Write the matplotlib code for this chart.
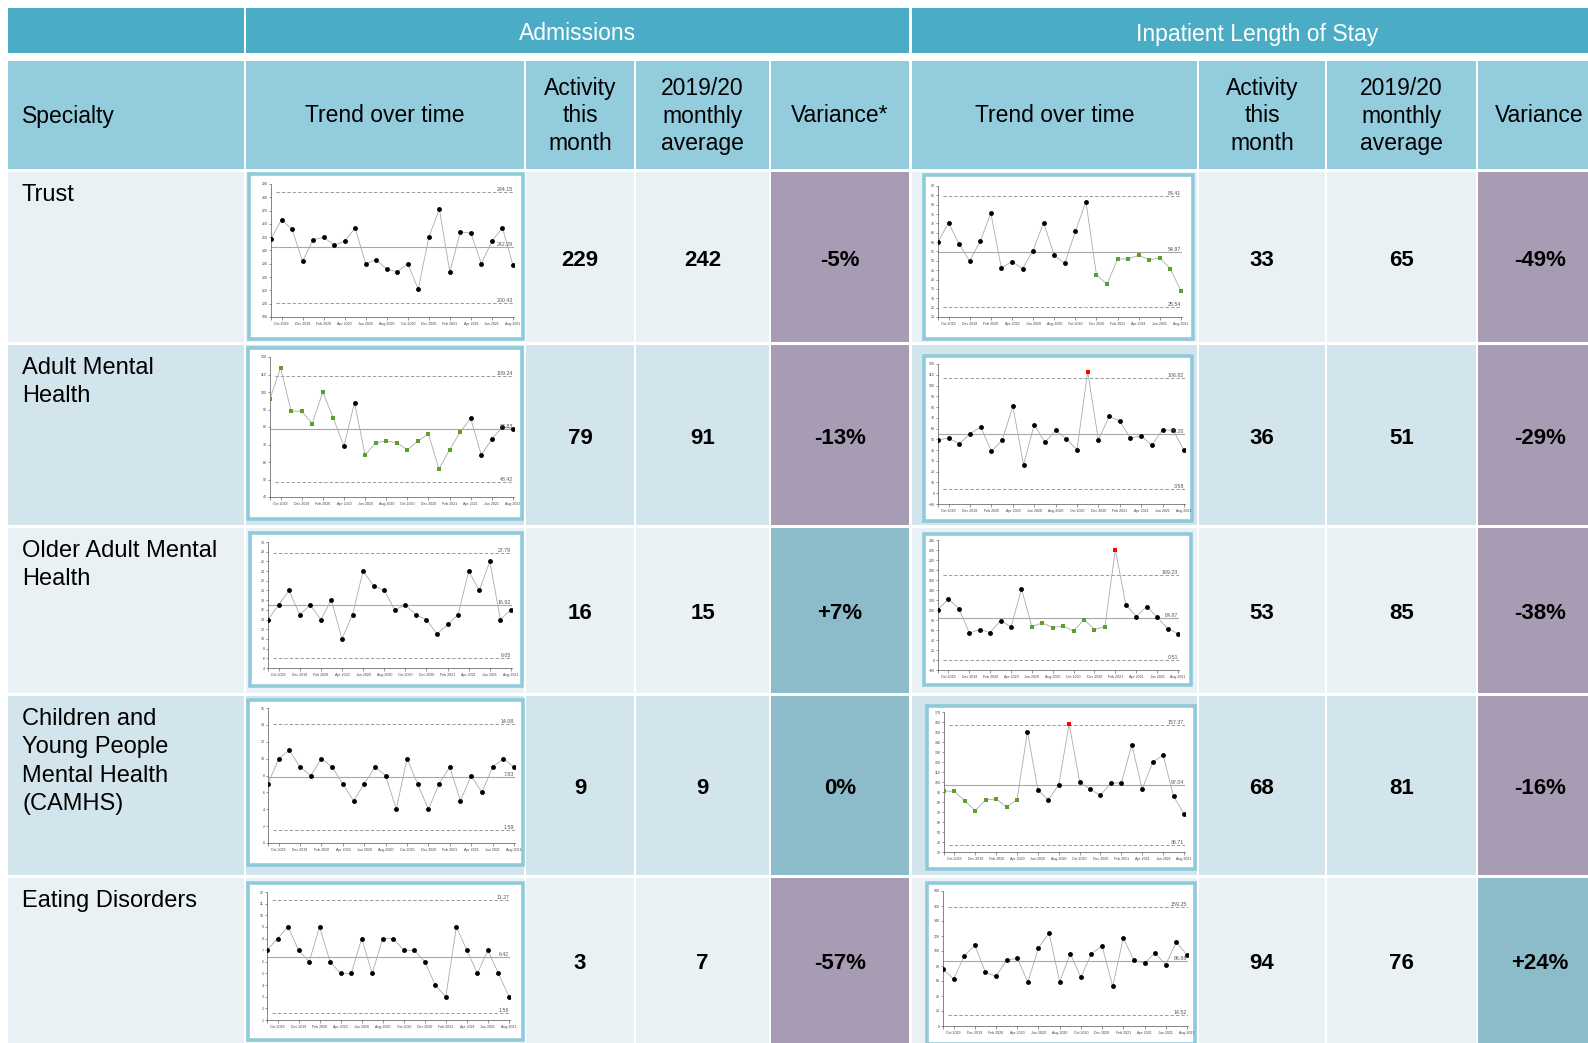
import matplotlib
matplotlib.use('Agg')
import matplotlib.pyplot as plt
from matplotlib.patches import Rectangle
import numpy as np

plt.rcParams['font.family'] = ['Liberation Sans', 'DejaVu Sans']

W, H = 1588, 1043

# ---------------- data ----------------
specialties = ['Trust', 'Adult Mental\nHealth', 'Older Adult Mental\nHealth',
               'Children and\nYoung People\nMental Health\n(CAMHS)', 'Eating Disorders']

months = ['Sep 2019', 'Oct 2019', 'Nov 2019', 'Dec 2019', 'Jan 2020', 'Feb 2020',
          'Mar 2020', 'Apr 2020', 'May 2020', 'Jun 2020', 'Jul 2020', 'Aug 2020',
          'Sep 2020', 'Oct 2020', 'Nov 2020', 'Dec 2020', 'Jan 2021', 'Feb 2021',
          'Mar 2021', 'Apr 2021', 'May 2021', 'Jun 2021', 'Jul 2021', 'Aug 2021']

adm_activity = [229, 79, 16, 9, 3]
adm_average = [242, 91, 15, 9, 7]
adm_variance = [-5, -13, 7, 0, -57]
los_activity = [33, 36, 53, 68, 94]
los_average = [65, 51, 85, 81, 76]
los_variance = [-49, -29, -38, -16, 24]

adm_trust = [249, 263, 256, 232, 248, 250, 244, 247, 257, 230, 233, 226,
             224, 230, 211, 250, 271, 224, 254, 253, 230, 247, 257, 229]
adm_trust_flags = 'nnnnnnnnnnnnnnnnnnnnnnnn'
adm_trust_limits = [242.29, 284.15, 200.43]

los_trust = [60, 70.4, 59, 50, 60.5, 75.5, 46.2, 49.6, 45.9, 55.5, 70.4, 53,
             48.6, 65.7, 81.6, 42.7, 37.5, 51, 51, 53, 50.5, 51.6, 45.7, 34]
los_trust_flags = 'nnnnnnnnnnnnnnnggggggggg'
los_trust_limits = [54.97, 84.41, 25.54]

adm_adult = [96, 114, 89, 89, 82, 100, 85, 69, 94, 64, 71, 72,
             71, 67, 72, 76, 56, 67, 77, 85, 64, 73, 80, 79]
adm_adult_flags = 'gggggggnnggggggggggnnnnn'
adm_adult_limits = [78.83, 109.24, 48.42]

los_adult = [49.7, 51, 46, 55.3, 61.5, 39, 49, 80.7, 26.5, 63.7, 47.2, 58.4,
             50.4, 40.4, 112.9, 49.4, 71.4, 67, 51, 53.4, 44.4, 59, 58.4, 40]
los_adult_flags = 'nnnnnnnnnnnnnnrnnnnnnnnn'
los_adult_limits = [55.20, 106.82, 3.58]

adm_older = [14, 17, 20, 15, 17, 14, 18, 10, 15, 24, 21, 20,
             16, 17, 15, 14, 11, 13, 15, 24, 20, 26, 14, 16]
adm_older_flags = 'nnnnnnnnnnnnnnnnnnnnnnnn'
adm_older_limits = [16.92, 27.79, 6.05]

los_older = [101, 122, 103, 54, 61, 55, 79, 66, 142, 67, 74, 65,
             68, 58, 81, 61, 67, 221, 111, 87, 107, 86, 63, 53]
los_older_flags = 'nnnnnnnnnggggggggrnnnnnn'
los_older_limits = [84.87, 169.23, 0.51]

adm_camhs = [7, 10, 11, 9, 8, 10, 9, 7, 5, 7, 9, 8,
             4, 10, 7, 4, 7, 9, 5, 8, 6, 9, 10, 9]
adm_camhs_flags = 'nnnnnnnnnnnnnnnnnnnnnnnn'
adm_camhs_limits = [7.83, 14.08, 1.59]

los_camhs = [91, 90.7, 81, 71.3, 82.3, 83, 75, 82.3, 150.3, 92, 82, 97.3,
             158.3, 100, 92.7, 86.7, 99, 99, 137.3, 93, 119.7, 127, 85.7, 68.3]
los_camhs_flags = 'ggggggggnnnnrnnnnnnnnnnn'
los_camhs_limits = [97.04, 157.37, 36.71]

adm_ed = [7, 8, 9, 7, 6, 9, 6, 5, 5, 8, 5, 8,
          8, 7, 7, 6, 4, 3, 9, 7, 5, 7, 5, 3]
adm_ed_flags = 'nnnnnnnnnnnnnnnnnnnnnnnn'
adm_ed_limits = [6.42, 11.27, 1.56]

los_ed = [76, 62.7, 93.3, 107.6, 71.6, 66.2, 88, 90.2, 58.7, 104, 124, 59,
          96.4, 64.9, 96.4, 106.7, 52.9, 117.3, 87.6, 84, 97.3, 81.8, 112, 94.7]
los_ed_flags = 'nnnnnnnnnnnnnnnnnnnnnnnn'
los_ed_limits = [86.88, 159.25, 14.52]

# y-axis ranges (min, max, step)
adm_yaxes = [(190, 290, 10), (40, 120, 10), (4, 30, 2), (0, 16, 2), (1, 12, 1)]
los_yaxes = [(20, 90, 5), (-10, 120, 10), (-20, 240, 20), (30, 170, 10), (0, 180, 20)]

# ---------------- styling ----------------
C_HEAD1 = '#4BACC6'
C_HEAD2 = '#93CDDD'
C_ROW_L = '#E9F1F4'
C_ROW_D = '#D3E5EC'
C_PURPLE = '#A89BB4'
C_TEAL = '#8CBCC9'
C_FRAME = '#8FCADA'
C_GREEN = '#5E9E2A'

fig = plt.figure(figsize=(W / 100, H / 100), dpi=100)
bg = fig.add_axes([0, 0, 1, 1])
bg.set_xlim(0, W)
bg.set_ylim(H, 0)
bg.axis('off')

cols = [(8, 244), (246, 524), (526, 634), (636, 769), (771, 909),
        (912, 1197), (1199, 1325), (1327, 1476), (1478, 1602)]
rows = [(172, 342), (345, 525), (528, 693), (696, 875), (878, 1050)]
row_colors = [C_ROW_L, C_ROW_D, C_ROW_L, C_ROW_D, C_ROW_L]


def cell(x0, x1, y0, y1, color):
    bg.add_patch(Rectangle((x0, y0), x1 - x0, y1 - y0, facecolor=color,
                           edgecolor='none', zorder=0))


# header row 1
cell(8, 244, 8, 53, C_HEAD1)
cell(246, 909, 8, 53, C_HEAD1)
cell(912, 1602, 8, 53, C_HEAD1)
bg.text((246 + 909) / 2, 34, 'Admissions', color='white', fontsize=16.5,
        ha='center', va='center')
bg.text((912 + 1602) / 2, 34, 'Inpatient Length of Stay', color='white',
        fontsize=16.5, ha='center', va='center')

# header row 2
hy0, hy1 = 61, 169
heads = ['Specialty', 'Trend over time', 'Activity\nthis\nmonth',
         '2019/20\nmonthly\naverage', 'Variance*', 'Trend over time',
         'Activity\nthis\nmonth', '2019/20\nmonthly\naverage', 'Variance']
for i, (x0, x1) in enumerate(cols):
    cell(x0, x1, hy0, hy1, C_HEAD2)
    yc = (hy0 + hy1) / 2 + 1
    if i == 0:
        bg.text(22, yc, heads[i], fontsize=16.5, ha='left', va='center')
    elif i == 8:
        bg.text(1495, yc, heads[i], fontsize=16.5, ha='left', va='center')
    else:
        bg.text((x0 + x1) / 2, yc, heads[i], fontsize=16.5, ha='center',
                va='center', linespacing=1.27, multialignment='center')


def fmt_var(v):
    if v > 0:
        return '+%d%%' % v
    return '%d%%' % v


for r, (y0, y1) in enumerate(rows):
    rc = row_colors[r]
    yc = (y0 + y1) / 2 if r < 4 else (y0 + 1043) / 2
    for i, (x0, x1) in enumerate(cols):
        if i in (4, 8):
            v = adm_variance[r] if i == 4 else los_variance[r]
            cell(x0, x1, y0, y1, C_PURPLE if v < 0 else C_TEAL)
        else:
            cell(x0, x1, y0, y1, rc)
    bg.text(22, y0 + 12, specialties[r], fontsize=17, ha='left', va='top',
            linespacing=1.37)
    vals = [None, None, str(adm_activity[r]), str(adm_average[r]),
            fmt_var(adm_variance[r]), None, str(los_activity[r]),
            str(los_average[r]), fmt_var(los_variance[r])]
    for i, (x0, x1) in enumerate(cols):
        if vals[i] is None:
            continue
        xc = (x0 + x1) / 2
        if i == 8:
            xc = 1540
        bg.text(xc, yc + 3, vals[i], fontsize=16, fontweight='bold',
                ha='center', va='center')

# ---------------- mini SPC charts ----------------
adm_series = [(adm_trust, adm_trust_flags, adm_trust_limits),
              (adm_adult, adm_adult_flags, adm_adult_limits),
              (adm_older, adm_older_flags, adm_older_limits),
              (adm_camhs, adm_camhs_flags, adm_camhs_limits),
              (adm_ed, adm_ed_flags, adm_ed_limits)]
los_series = [(los_trust, los_trust_flags, los_trust_limits),
              (los_adult, los_adult_flags, los_adult_limits),
              (los_older, los_older_flags, los_older_limits),
              (los_camhs, los_camhs_flags, los_camhs_limits),
              (los_ed, los_ed_flags, los_ed_limits)]

adm_frames = [(247, 172, 525, 341), (246, 346, 524, 521), (248, 531, 524, 688),
              (246, 698, 525, 867), (246, 881, 525, 1042)]
adm_axes = [(271, 184, 514, 317), (270, 357, 514, 497), (268, 542, 512, 668),
            (268, 708, 515, 843), (267, 892, 510, 1020)]
los_frames = [(922, 173, 1195, 341), (922, 354, 1194, 523), (922, 532, 1193, 687),
              (925, 704, 1197, 871), (925, 881, 1197, 1046)]
los_axes = [(938, 186, 1182, 317), (938, 364, 1185, 504), (938, 540, 1179, 670),
            (944, 712, 1185, 852), (943, 891, 1188, 1026)]

mcolor = {'n': 'black', 'g': C_GREEN, 'r': '#FF0000'}
mshape = {'n': 'o', 'g': 's', 'r': 's'}


def mini(frame, axr, vals, flags, limits, yax):
    fx0, fy0, fx1, fy1 = frame
    bw = 3.6
    fr = Rectangle((fx0 + bw / 2, fy0 + bw / 2), fx1 - fx0 - bw, fy1 - fy0 - bw,
                   facecolor='white', edgecolor=C_FRAME, linewidth=bw * 0.72,
                   zorder=1)
    bg.add_patch(fr)
    ax0, ay0, ax1, ay1 = axr
    a = fig.add_axes([ax0 / W, 1 - ay1 / H, (ax1 - ax0) / W, (ay1 - ay0) / H])
    a.patch.set_alpha(0)
    n = len(vals)
    x = np.arange(n)
    mean, ucl, lcl = limits
    a.axhline(mean, color='#A8A8A8', lw=0.8, zorder=1)
    for lv in (ucl, lcl):
        a.axhline(lv, xmin=0.02, color='#8A8A8A', lw=0.6, ls=(0, (4, 2.5)),
                  zorder=1)
    a.plot(x, vals, color='#ABABAB', lw=0.6, zorder=2)
    for f in 'ngr':
        idx = [i for i in range(n) if flags[i] == f]
        if idx:
            a.plot(x[idx], np.array(vals)[idx], ls='none', marker=mshape[f],
                   color=mcolor[f], markersize=3.5 if f == 'n' else 3.2,
                   zorder=3, markeredgewidth=0)
    for lv in (ucl, mean, lcl):
        a.text(n - 1, lv, '%.2f' % lv, fontsize=3.8, color='#555555',
               ha='right', va='bottom')
    ylo, yhi, st = yax
    a.set_xlim(0, n - 0.9)
    a.set_ylim(ylo, yhi)
    a.set_yticks(np.arange(ylo, yhi + st / 2, st))
    a.tick_params(axis='y', labelsize=2.6, length=1.5, width=0.4, pad=1,
                  colors='#444444')
    ticks = [0] + list(range(1, n, 2))
    a.set_xticks(ticks)
    a.set_xticklabels([''] + [months[i] for i in ticks[1:]])
    a.tick_params(axis='x', labelsize=2.6, length=1.8, width=0.4, pad=2,
                  colors='#444444')
    for s in ('top', 'right'):
        a.spines[s].set_visible(False)
    for s in ('left', 'bottom'):
        a.spines[s].set_linewidth(0.5)
        a.spines[s].set_color('#555555')
    for lbl in a.get_xticklabels():
        lbl.set_clip_on(True)
        lbl.set_clip_path(fr)


for r in range(5):
    v, f, l = adm_series[r]
    mini(adm_frames[r], adm_axes[r], v, f, l, adm_yaxes[r])
    v, f, l = los_series[r]
    mini(los_frames[r], los_axes[r], v, f, l, los_yaxes[r])

fig.savefig('out.png', dpi=100, facecolor='white')
